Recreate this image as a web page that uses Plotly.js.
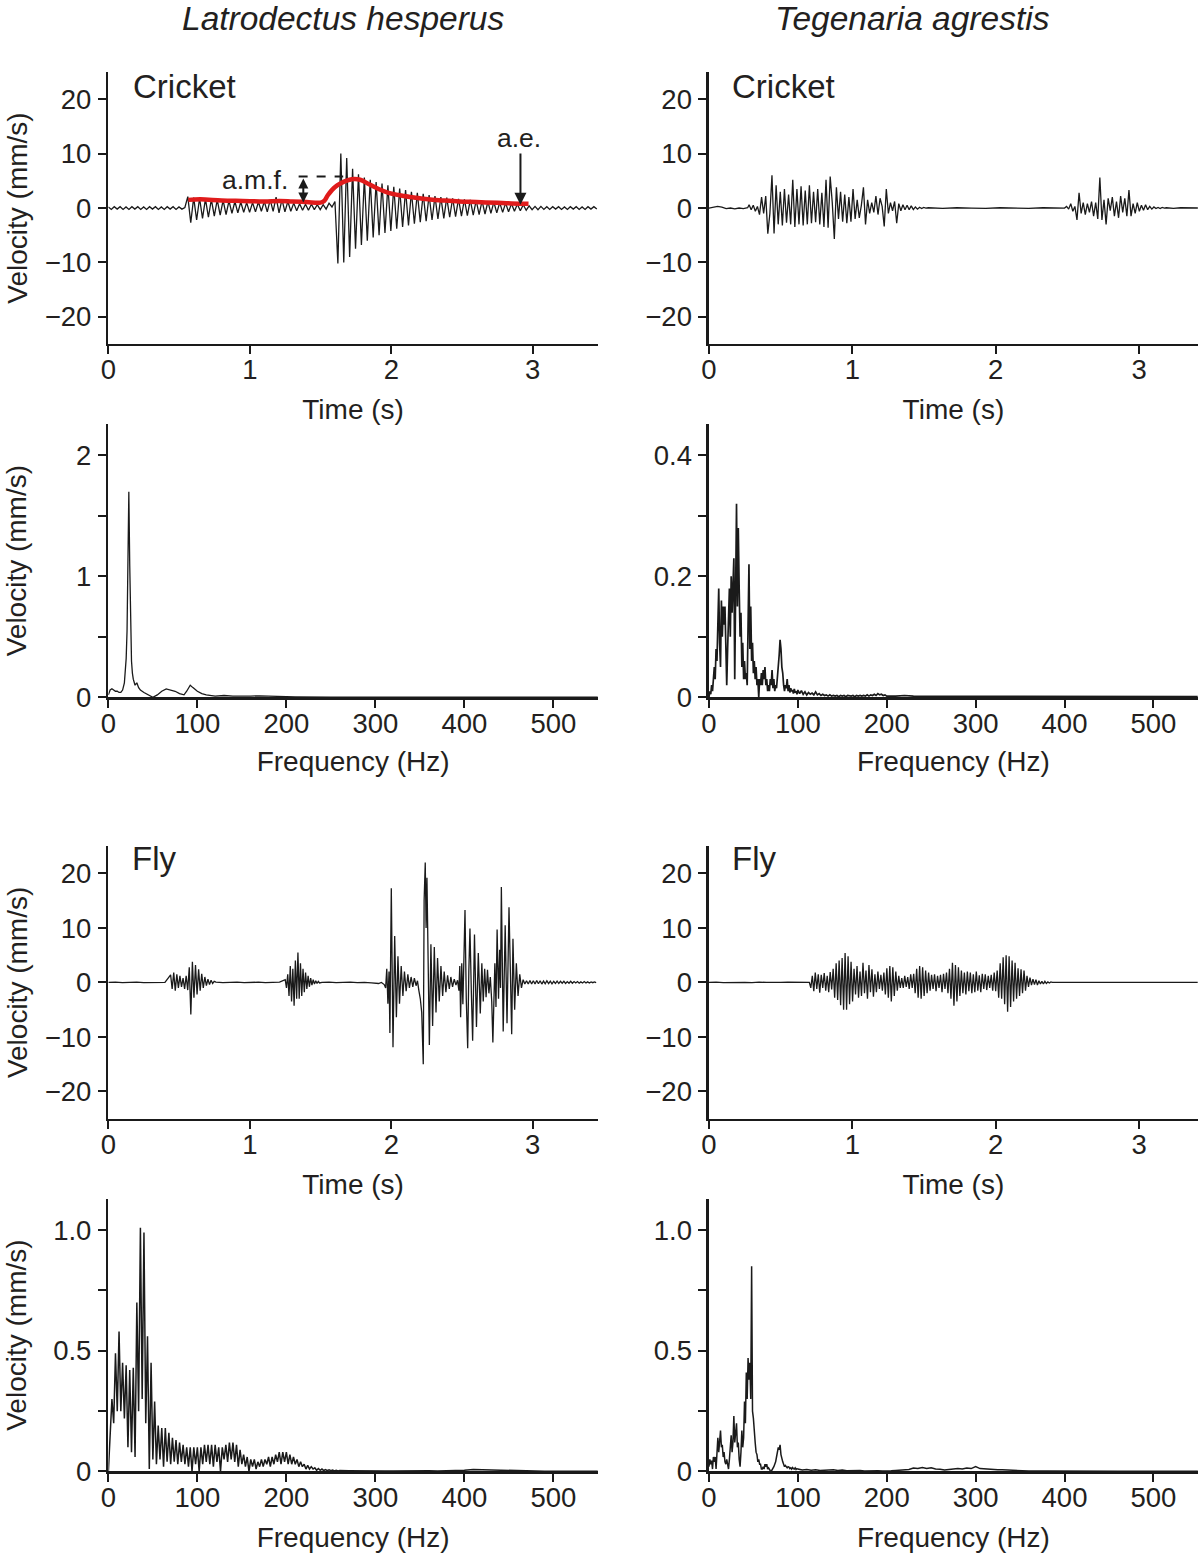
<!DOCTYPE html>
<html>
<head>
<meta charset="utf-8">
<script src="https://cdn.plot.ly/plotly-3.0.1.min.js"></script>
<style>html,body{margin:0;padding:0;background:#fff;}</style>
</head>
<body>
<div id="chart" style="width:1200px;height:1553px;"></div>
<script>
// ---------------- DATA ----------------
// Latrodectus hesperus, cricket: velocity (mm/s), sampled every 0.0208 s
const LH_CRICKET_PRE = [0.2,-0.25,0.25,-0.2,0.25,-0.25,0.2,-0.25,0.25,-0.2,0.25,-0.25,0.2,-0.25,0.25,-0.2,0.25,-0.25,0.2,-0.25,0.25,-0.2,0.25,-0.25,0.2,-0.2,0.1];
const LH_CRICKET_CALL = [
 2.1,-2.7,1.9,-2.2,1.8,-1.9,1.7,-1.7,1.6,-1.5,
 1.5,-1.3,1.4,-1.2,1.3,-1.0,1.2,-0.9,1.1,-0.8,
 1.0,-0.8,1.0,-0.7,1.1,-0.6,1.2,-0.7,1.5,-0.6,
 2.0,-0.9,1.6,-0.7,1.2,-0.6,0.9,-0.5,0.8,-0.4,
 0.7,-0.4,0.7,-0.3,0.6,-0.3,0.6,-0.2,0.9,0.2,
 1.2,-10.2,10.0,-10.0,9.2,-9.0,7.2,-7.5,6.2,-6.8,
 5.6,-6.0,5.2,-5.4,4.8,-5.0,4.5,-4.6,4.2,-4.2,
 3.9,-3.8,3.6,-3.5,3.3,-3.2,3.0,-2.9,2.8,-2.6,
 2.6,-2.4,2.4,-2.2,2.2,-2.0,2.0,-1.9,1.9,-1.7,
 1.8,-1.6,1.7,-1.5,1.6,-1.4,1.5,-1.3,1.4,-1.2,
 1.3,-1.1,1.2,-1.0,1.1,-0.9,1.0,-0.8,0.9,-0.7,
 0.8,-0.6,0.7,-0.5,0.6,-0.4];
const LH_CRICKET_POST = [0.4,-0.3,0.3,-0.3,0.3,-0.25,0.25,-0.25,0.25,-0.2,0.25,-0.25,0.2,-0.25,0.25,-0.2,0.25,-0.25,0.2,-0.25,0.25,-0.2,0.25,-0.2];
// envelope (red)
const LH_ENVELOPE_T = [0.565,0.65,0.8,0.95,1.1,1.21,1.3,1.4,1.5,1.525,1.55,1.58,1.62,1.67,1.72,1.78,1.84,1.91,1.98,2.07,2.17,2.26,2.36,2.48,2.6,2.75,2.85,2.97];
const LH_ENVELOPE_V = [1.5,1.6,1.4,1.3,1.2,1.3,1.2,1.1,1.0,1.3,2.3,3.3,4.2,4.9,5.3,5.2,4.4,3.5,2.8,2.3,1.9,1.6,1.4,1.2,1.1,0.95,0.85,0.8];

// Tegenaria agrestis, cricket
const TA_CRICKET_PRE = [0,0.1,0.3,0.15,-0.1,0,-0.15,0,-0.1,0.05];          // dt 0.03 from 0
const TA_CRICKET_BURST1 = [                                              // dt 0.0145 from 0.28
 0.6,-0.3,0.5,-0.6,0.3,-1.2,2.0,-1.0,2.2,-4.7,
 -1.0,6.0,-4.7,4.2,-3.0,3.0,-3.2,3.5,-2.7,2.5,
 -3.0,5.2,-3.5,3.5,-3.0,4.0,-3.2,3.2,-3.0,4.2,
 -2.8,3.0,-2.6,3.5,-3.0,2.8,-3.5,5.2,-3.6,5.8,
 1.0,-5.7,3.8,-2.0,3.0,-2.5,2.5,-2.8,2.0,-2.5,
 3.5,-2.0,1.5,-1.8,0.5,3.8,-3.0,1.5,-1.0,1.0,
 -0.8,2.2,-1.2,1.8,0.3,-3.4,3.5,-1.0,1.0,-0.5,
 1.2,-2.8,0.8,-0.5,0.6,-0.3,0.5,-0.3,0.4,-0.3,
 0.2,-0.2,0.15,-0.1,0.1,0];
const TA_CRICKET_GAP = [0.05,-0.05,0.05,0,-0.05,0.05,0,-0.05,0.05,0];      // dt 0.1 from 1.53
const TA_CRICKET_BURST2 = [                                              // dt 0.0145 from 2.48
 0,0.3,-0.2,0.8,-0.6,0.3,-2.2,2.8,-1.0,1.0,
 -1.2,0.8,-0.8,1.2,-1.5,1.0,-2.0,5.6,-2.2,1.5,
 -3.0,1.8,-0.5,2.0,-1.5,1.2,-1.8,2.2,-0.8,1.8,
 -1.5,3.3,-1.5,0.8,-1.0,1.0,-0.6,0.5,-0.4,0.6,
 -0.3,0.3,-0.2,0.2,-0.1,0.1,-0.1,0.1,0];
const TA_CRICKET_POST = [0.05,-0.05,0.05,0,-0.05,0];                       // dt 0.05 from 3.19

// Latrodectus hesperus, fly
const LH_FLY_PRE = [0,0.05,-0.05,0,0.05,-0.05,0,0.05,0];                     // dt 0.05 from 0
const LH_FLY_BURST1 = [1.4,-1.2,1.8,-1.5,1.5,-1.0,1.2,-0.8,0.8,-1.2,1.2,-1.4,2.8,-5.9,3.8,-2.8,3.2,-2.2,2.4,-1.5,1.6,-1.0,1.0,-0.6,0.6,-0.4,0.4,-0.2,0.2]; // dt 0.011 from 0.44
const LH_FLY_GAP1 = [0.05,-0.05,0,0.05,-0.05,0,0.05,-0.05,0,0.05];           // dt 0.05 from 0.76
const LH_FLY_BURST2 = [0.5,-1,1.5,-2.5,3,-3.5,2.5,-4.3,4,-3,5.5,-3,3.5,-2.5,2.5,-1.8,1.8,-1.2,1.2,-0.8,0.8,-0.5,0.5,-0.3,0.3,-0.2,0.2,-0.1]; // dt 0.009 from 1.25
const LH_FLY_GAP2 = [0,0.05,-0.05,0,0.05,-0.05,0,-0.1,-0.2];                 // dt 0.05 from 1.51
const LH_FLY_MAIN_T = [1.930,1.950,1.960,1.968,1.976,1.984,1.990,2.000,2.012,2.024,2.036,2.047,2.058,2.070,2.082,2.093,2.105,2.117,2.128,2.140,2.152,2.163,2.175,2.185,2.195,2.205,2.215,2.226,2.232,2.240,2.246,2.252,2.269,2.280,2.292,2.304,2.316,2.327,2.339,2.351,2.363,2.374,2.386,2.398,2.410,2.421,2.433,2.445,2.457,2.468,2.478,2.484,2.490,2.498,2.506,2.514,2.521,2.530,2.540,2.548,2.556,2.566,2.575,2.588,2.602,2.615,2.629,2.640,2.650,2.660,2.670,2.680,2.690,2.700,2.710,2.718,2.726,2.732,2.740,2.748,2.758,2.766,2.772,2.778,2.791,2.805,2.818,2.832,2.851,2.860,2.872,2.884,2.896,2.908,2.920,2.932,2.944];
const LH_FLY_MAIN_V = [0,-0.4,-1.0,2.5,-3.9,2.0,-9.3,17.3,-11.9,8.5,-6.4,4.8,-3.9,3.0,-2.5,2.0,-1.6,1.5,-1.0,1.0,-0.8,0.8,-0.6,0.3,-1.5,-3.0,-5.5,-15.0,15.0,22.0,10.0,19.2,-11.5,7.0,-8.0,6.5,-5.5,4.5,-3.5,3.0,-2.5,2.0,-1.8,1.3,-1.2,1.0,-0.8,0.6,-0.5,0.4,-1.5,3.0,-6.4,3.5,-4.0,5.0,13.3,-3.0,-12.1,2.0,9.9,-2.0,-10.7,8.8,-8.2,5.4,-5.7,3.5,-3.5,2.5,-2.7,2.3,-2.0,1.0,-3.5,-11.0,-3.0,3.5,-4.5,9.7,-3.0,6.0,-1.0,17.5,-9.0,10.5,-7.5,13.8,-9.5,8.0,-5.0,3.5,-2.5,1.5,-1.0,0.5,-0.3];
const LH_FLY_POST = [0.3,-0.3,0.35,-0.3,0.3,-0.3,0.35,-0.25,0.3,-0.3,0.25,-0.25,0.3,-0.2,0.25,-0.25,0.2,-0.2,0.25,-0.2,0.2,-0.15,0.2,-0.2,0.15,-0.15,0.2,-0.15,0.15,-0.1,0.15,-0.15,0.1,-0.1,0.15,-0.1,0.1,-0.1,0.1,-0.05,0.1,-0.05]; // dt 0.012 from 2.956

// Tegenaria agrestis, fly
const TA_FLY_PRE = [0,0.05,-0.05,0,0.05,0,-0.05,0.05,0,-0.05,0,0.05,0,0];     // dt 0.05 from 0
const TA_FLY_BURST = [                                                   // dt 0.0104 from 0.70
 0,-1.0,1.2,-1.6,1.8,-1.2,1.5,-1.9,1.4,-1.0,
 1.7,-1.5,1.2,-1.8,1.9,-1.3,2.5,-2.8,3.5,-3.2,
 4.0,-4.2,4.5,-5.0,5.4,-5.0,4.8,-4.0,3.8,-3.5,
 2.5,-2.2,3.0,-2.8,2.0,-2.5,3.6,-2.0,2.2,-3.0,
 3.2,-1.8,2.4,-2.6,1.5,-1.8,2.0,-1.2,1.4,-1.5,
 1.8,-2.2,2.6,-2.8,3.0,-3.5,2.8,-2.5,2.0,-1.5,
 1.2,-1.0,0.8,-1.0,1.2,-0.8,1.0,-1.2,1.5,-1.0,
 1.6,-2.0,2.5,-2.8,3.0,-3.0,2.8,-2.5,2.2,-2.0,
 1.8,-1.5,1.4,-1.2,1.5,-1.6,1.2,-1.0,1.4,-1.8,
 1.6,-1.2,1.8,-2.0,2.5,-3.0,3.6,-4.3,3.2,-3.5,
 2.8,-2.5,2.2,-2.0,1.8,-2.2,2.0,-1.6,1.8,-2.0,
 1.5,-1.8,2.0,-1.5,1.3,-1.8,1.6,-1.2,1.5,-1.4,
 1.2,-1.0,1.4,-1.5,1.8,-1.6,2.2,-2.8,3.5,-3.0,
 4.6,-4.0,5.0,-5.4,4.8,-4.5,4.0,-3.5,3.6,-3.0,
 2.6,-2.5,2.4,-2.0,2.2,-1.5,1.2,-0.8,0.9,-0.5,
 0.6,-0.4,0.5,-0.5,0.3,-0.3,0.2,-0.3,0.2,-0.2,
 0.1,-0.1,0.1,0];
const TA_FLY_POST = [0,0.05,-0.05,0,0.05,0,-0.05,0,0.05,0,0];              // dt 0.1 from 2.41

// Spectra (velocity mm/s vs frequency Hz)
const LH_CRICKET_SPEC_HZ = [0,2,4,6,8,10,12,14,16,18,19,20,21,22,23,24,25,26,27,28,30,32,34,36,40,45,50,55,60,65,70,75,80,85,88,90,92,95,100,105,110,120,130,140,150,160,170,180,190,200,210,220,250,300,350,400,450,500,550];
const LH_CRICKET_SPEC_V = [0.02,0.06,0.07,0.06,0.05,0.05,0.04,0.04,0.06,0.12,0.2,0.32,0.55,1.0,1.7,1.1,0.55,0.3,0.2,0.15,0.1,0.12,0.08,0.06,0.04,0.02,0.0,0.02,0.05,0.07,0.06,0.05,0.03,0.02,0.05,0.08,0.1,0.08,0.05,0.03,0.02,0.01,0.015,0.01,0.008,0.01,0.012,0.008,0.006,0.005,0.003,0.002,0.001,0.001,0.001,0.001,0.001,0.001,0.001];

const TA_CRICKET_SPEC_LOW = [   // 0–100 Hz, 1 Hz step
 0.0,0.01,0.005,0.02,0.01,0.03,0.05,0.03,0.08,0.06,
 0.12,0.18,0.09,0.05,0.16,0.10,0.15,0.12,0.15,0.06,
 0.02,0.08,0.12,0.18,0.10,0.20,0.14,0.19,0.23,0.03,
 0.20,0.32,0.15,0.28,0.18,0.10,0.14,0.05,0.09,0.03,
 0.06,0.03,0.04,0.02,0.12,0.22,0.08,0.15,0.06,0.09,
 0.04,0.06,0.03,0.05,0.02,0.03,0.0,0.03,0.02,0.04,
 0.02,0.045,0.03,0.05,0.02,0.03,0.01,0.02,0.01,0.03,
 0.02,0.045,0.015,0.03,0.01,0.02,0.015,0.03,0.05,0.07,
 0.095,0.08,0.05,0.04,0.02,0.01,0.02,0.015,0.03,0.01,
 0.02,0.008,0.015,0.01,0.012,0.006,0.014,0.008,0.01,0.005,
 0.012];
const TA_CRICKET_SPEC_MID = [   // 100–200 Hz, 2 Hz step
 0.012,0.006,0.011,0.005,0.009,0.004,0.008,0.005,0.007,0.004,0.009,
 0.004,0.006,0.003,0.005,0.003,0.004,0.002,0.004,0.002,0.003,
 0.002,0.003,0.001,0.003,0.002,0.003,0.001,0.003,0.002,0.002,
 0.003,0.001,0.003,0.002,0.003,0.002,0.003,0.002,0.004,0.002,
 0.004,0.003,0.005,0.003,0.006,0.004,0.005,0.003,0.004,0.002];
const TA_CRICKET_SPEC_HIGH = [  // 200–550 Hz, 10 Hz step
 0.002,0.002,0.003,0.002,0.002,0.001,0.002,0.001,0.002,0.001,
 0.002,0.001,0.002,0.001,0.001,0.002,0.001,0.001,0.002,0.001,
 0.001,0.001,0.002,0.001,0.001,0.001,0.001,0.002,0.001,0.001,
 0.001,0.001,0.001,0.001,0.001,0.001];

const LH_FLY_SPEC_LOW = [       // 0–260 Hz, 2 Hz step
 0.0,0.15,0.30,0.20,0.49,0.25,0.58,0.25,0.45,0.22,
 0.44,0.10,0.42,0.08,0.43,0.06,0.70,0.25,1.01,0.30,
 0.99,0.20,0.56,0.01,0.45,0.05,0.29,0.03,0.19,0.05,
 0.18,0.02,0.18,0.04,0.16,0.03,0.14,0.04,0.13,0.03,
 0.12,0.04,0.11,0.03,0.10,0.02,0.10,0.0,0.10,0.03,
 0.10,0.0,0.10,0.03,0.11,0.04,0.11,0.03,0.11,0.02,
 0.11,0.04,0.10,0.0,0.10,0.05,0.11,0.04,0.12,0.05,
 0.12,0.04,0.11,0.02,0.09,0.03,0.07,0.02,0.06,0.0,
 0.05,0.02,0.05,0.01,0.04,0.02,0.05,0.02,0.05,0.03,
 0.06,0.02,0.06,0.03,0.07,0.04,0.08,0.03,0.08,0.04,
 0.08,0.03,0.07,0.03,0.06,0.03,0.05,0.02,0.04,0.02,
 0.03,0.01,0.025,0.01,0.02,0.01,0.015,0.005,0.012,0.005,
 0.01,0.004,0.008,0.003,0.007,0.003,0.006,0.002,0.005,0.002,
 0.004];
const LH_FLY_SPEC_HIGH = [      // 260–550 Hz, 10 Hz step
 0.004,0.003,0.002,0.002,0.003,0.002,0.002,0.003,0.003,0.004,
 0.003,0.002,0.002,0.003,0.005,0.008,0.007,0.004,0.003,0.002,
 0.002,0.001,0.001,0.001,0.001,0.001,0.001,0.001,0.001,0.001];

const TA_FLY_SPEC_LOW = [       // 0–100 Hz, 1 Hz step
 0.02,0.05,0.03,0.045,0.01,0.06,0.04,0.06,0.01,0.08,
 0.14,0.08,0.12,0.17,0.10,0.11,0.06,0.08,0.04,0.03,
 0.05,0.02,0.01,0.05,0.09,0.15,0.08,0.12,0.23,0.12,
 0.16,0.20,0.10,0.12,0.05,0.02,0.08,0.17,0.10,0.14,
 0.29,0.20,0.41,0.30,0.47,0.38,0.45,0.30,0.85,0.25,
 0.22,0.14,0.12,0.08,0.07,0.04,0.05,0.03,0.03,0.01,
 0.01,0.02,0.01,0.03,0.02,0.03,0.01,0.015,0.005,0.003,
 0.0,0.005,0.01,0.02,0.03,0.04,0.06,0.08,0.10,0.09,
 0.11,0.07,0.05,0.04,0.03,0.02,0.025,0.02,0.015,0.02,
 0.018,0.012,0.015,0.01,0.016,0.012,0.01,0.015,0.008,0.012,
 0.01];
const TA_FLY_SPEC_MID = [       // 100–360 Hz, 5 Hz step
 0.01,0.006,0.008,0.005,0.007,0.004,0.006,0.005,0.007,0.004,
 0.006,0.003,0.004,0.003,0.004,0.002,0.003,0.004,0.003,0.002,
 0.004,0.003,0.004,0.005,0.006,0.008,0.014,0.012,0.016,0.012,
 0.015,0.01,0.009,0.006,0.008,0.01,0.012,0.01,0.014,0.012,
 0.02,0.012,0.01,0.009,0.008,0.007,0.007,0.006,0.005,0.004,
 0.003,0.003,0.002];
const TA_FLY_SPEC_HIGH = [0.002,0.002,0.001,0.001,0.001,0.001,0.001,0.001,0.001,0.001,0.001]; // 360–560 Hz, 20 Hz step

const TIME_TICKS = [0,1,2,3];
const FREQ_TICKS = [0,100,200,300,400,500];
const VEL_TICKS = [-20,-10,0,10,20];

// ---------------- BUILD ----------------
function build(segs){
  const x=[], y=[];
  segs.forEach(s=>{
    if (s.t) { s.t.forEach((tt,i)=>{x.push(tt); y.push(s.v[i]);}); }
    else { s.v.forEach((v,i)=>{x.push(+(s.x0 + i*s.dx).toFixed(5)); y.push(v);}); }
  });
  return {x,y};
}

const lhCricket = build([
  {x0:0, dx:0.0208, v:LH_CRICKET_PRE},
  {x0:27*0.0208, dx:0.0208, v:LH_CRICKET_CALL},
  {x0:143*0.0208, dx:0.0208, v:LH_CRICKET_POST}
]);
const taCricket = build([
  {x0:0, dx:0.03, v:TA_CRICKET_PRE},
  {x0:0.28, dx:0.0145, v:TA_CRICKET_BURST1},
  {x0:1.53, dx:0.1, v:TA_CRICKET_GAP},
  {x0:2.48, dx:0.0145, v:TA_CRICKET_BURST2},
  {x0:3.19, dx:0.05, v:TA_CRICKET_POST}
]);
const lhFly = build([
  {x0:0, dx:0.05, v:LH_FLY_PRE},
  {x0:0.44, dx:0.011, v:LH_FLY_BURST1},
  {x0:0.76, dx:0.05, v:LH_FLY_GAP1},
  {x0:1.25, dx:0.009, v:LH_FLY_BURST2},
  {x0:1.51, dx:0.05, v:LH_FLY_GAP2},
  {t:LH_FLY_MAIN_T, v:LH_FLY_MAIN_V},
  {x0:2.956, dx:0.012, v:LH_FLY_POST}
]);
const taFly = build([
  {x0:0, dx:0.05, v:TA_FLY_PRE},
  {x0:0.70, dx:0.0104, v:TA_FLY_BURST},
  {x0:2.41, dx:0.1, v:TA_FLY_POST}
]);
const lhCricketSpec = build([{t:LH_CRICKET_SPEC_HZ, v:LH_CRICKET_SPEC_V}]);
const taCricketSpec = build([
  {x0:0, dx:1, v:TA_CRICKET_SPEC_LOW},
  {x0:102, dx:2, v:TA_CRICKET_SPEC_MID.slice(1)},
  {x0:210, dx:10, v:TA_CRICKET_SPEC_HIGH.slice(1)}
]);
const lhFlySpec = build([
  {x0:0, dx:2, v:LH_FLY_SPEC_LOW},
  {x0:270, dx:10, v:LH_FLY_SPEC_HIGH.slice(1)}
]);
const taFlySpec = build([
  {x0:0, dx:1, v:TA_FLY_SPEC_LOW},
  {x0:105, dx:5, v:TA_FLY_SPEC_MID.slice(1)},
  {x0:380, dx:20, v:TA_FLY_SPEC_HIGH.slice(1)}
]);

const INK = '#1a1a1a';
const TXT = '#231f20';
const FONT = '"Liberation Sans", Arial, Helvetica, sans-serif';

function line(d, xa, ya, w){
  return {type:'scatter', mode:'lines', x:d.x, y:d.y, xaxis:xa, yaxis:ya,
          line:{color:INK, width:w||1.2}, hoverinfo:'skip', showlegend:false};
}

const traces = [
  line(lhCricket,'x','y',1.3),
  {type:'scatter', mode:'lines', x:LH_ENVELOPE_T, y:LH_ENVELOPE_V, xaxis:'x', yaxis:'y',
   line:{color:'#e01b1b', width:4.5, shape:'spline'}, showlegend:false, hoverinfo:'skip'},
  line(taCricket,'x2','y2',1.3),
  line(lhCricketSpec,'x3','y3',1.3),
  line(taCricketSpec,'x4','y4',1.7),
  line(lhFly,'x5','y5',1.3),
  line(taFly,'x6','y6',1.3),
  line(lhFlySpec,'x7','y7',1.5),
  line(taFlySpec,'x8','y8',1.5)
];

// ---------------- LAYOUT ----------------
const LEFT = [0.0903, 0.4982], RIGHT = [0.5908, 0.9982];
const ROW1 = [0.7785, 0.9536], ROW2 = [0.5510, 0.7270], ROW3 = [0.2797, 0.4551], ROW4 = [0.0525, 0.2281];

function ax(o){
  return Object.assign({
    showline:true, linecolor:INK, linewidth:2.5, mirror:false,
    ticks:'outside', ticklen:8, tickwidth:2, tickcolor:INK,
    showgrid:false, zeroline:false, fixedrange:true,
    tickfont:{family:FONT, size:27.5, color:TXT}
  }, o);
}
function ttl(text, standoff){ return {text:text, font:{family:FONT, size:28, color:TXT}, standoff:standoff}; }
const XS = -8, YS = 1;

const layout = {
  width:1200, height:1553,
  margin:{l:0, r:0, t:0, b:0},
  paper_bgcolor:'#ffffff', plot_bgcolor:'#ffffff',
  showlegend:false,
  font:{family:FONT, color:TXT},
  xaxis:  ax({domain:LEFT,  anchor:'y',  range:[0,3.46], tickvals:TIME_TICKS, ticklabelstandoff:XS, title:ttl('Time (s)',15)}),
  yaxis:  ax({domain:ROW1,  anchor:'x',  range:[-25,25], tickvals:VEL_TICKS, ticklabelstandoff:YS, title:ttl('Velocity (mm/s)',9)}),
  xaxis2: ax({domain:RIGHT, anchor:'y2', range:[0,3.41], tickvals:TIME_TICKS, ticklabelstandoff:XS, title:ttl('Time (s)',15)}),
  yaxis2: ax({domain:ROW1,  anchor:'x2', range:[-25,25], tickvals:VEL_TICKS, ticklabelstandoff:YS}),
  xaxis3: ax({domain:LEFT,  anchor:'y3', range:[0,550], tickvals:FREQ_TICKS, ticklabelstandoff:XS, title:ttl('Frequency (Hz)',14)}),
  yaxis3: ax({domain:ROW2,  anchor:'x3', range:[0,2.26], tickvals:[0,0.5,1,1.5,2], ticktext:['0','','1','','2'], ticklabelstandoff:YS, title:ttl('Velocity (mm/s)',42)}),
  xaxis4: ax({domain:RIGHT, anchor:'y4', range:[0,550], tickvals:FREQ_TICKS, ticklabelstandoff:XS, title:ttl('Frequency (Hz)',14)}),
  yaxis4: ax({domain:ROW2,  anchor:'x4', range:[0,0.452], tickvals:[0,0.1,0.2,0.3,0.4], ticktext:['0','','0.2','','0.4'], ticklabelstandoff:YS}),
  xaxis5: ax({domain:LEFT,  anchor:'y5', range:[0,3.46], tickvals:TIME_TICKS, ticklabelstandoff:XS, title:ttl('Time (s)',16)}),
  yaxis5: ax({domain:ROW3,  anchor:'x5', range:[-25,25], tickvals:VEL_TICKS, ticklabelstandoff:YS, title:ttl('Velocity (mm/s)',9)}),
  xaxis6: ax({domain:RIGHT, anchor:'y6', range:[0,3.41], tickvals:TIME_TICKS, ticklabelstandoff:XS, title:ttl('Time (s)',16)}),
  yaxis6: ax({domain:ROW3,  anchor:'x6', range:[-25,25], tickvals:VEL_TICKS, ticklabelstandoff:YS}),
  xaxis7: ax({domain:LEFT,  anchor:'y7', range:[0,550], tickvals:FREQ_TICKS, ticklabelstandoff:XS, title:ttl('Frequency (Hz)',18)}),
  yaxis7: ax({domain:ROW4,  anchor:'x7', range:[0,1.13], tickvals:[0,0.25,0.5,0.75,1.0], ticktext:['0','','0.5','','1.0'], ticklabelstandoff:YS, title:ttl('Velocity (mm/s)',19)}),
  xaxis8: ax({domain:RIGHT, anchor:'y8', range:[0,550], tickvals:FREQ_TICKS, ticklabelstandoff:XS, title:ttl('Frequency (Hz)',18)}),
  yaxis8: ax({domain:ROW4,  anchor:'x8', range:[0,1.13], tickvals:[0,0.25,0.5,0.75,1.0], ticktext:['0','','0.5','','1.0'], ticklabelstandoff:YS}),
  shapes:[
    {type:'line', xref:'x', yref:'y', x0:1.345, x1:1.66, y0:5.8, y1:5.8, line:{color:INK, width:2, dash:'dash'}}
  ],
  annotations:[
    {xref:'paper', yref:'paper', x:0.2858, y:0.9884, text:'<i>Latrodectus hesperus</i>', showarrow:false, font:{family:FONT, size:33.5, color:TXT}, xanchor:'center', yanchor:'middle'},
    {xref:'paper', yref:'paper', x:0.7608, y:0.9884, text:'<i>Tegenaria agrestis</i>', showarrow:false, font:{family:FONT, size:33.5, color:TXT}, xanchor:'center', yanchor:'middle'},
    {xref:'paper', yref:'paper', x:0.1092, y:0.9440, text:'Cricket', showarrow:false, font:{family:FONT, size:33, color:TXT}, xanchor:'left', yanchor:'middle'},
    {xref:'paper', yref:'paper', x:0.6083, y:0.9440, text:'Cricket', showarrow:false, font:{family:FONT, size:33, color:TXT}, xanchor:'left', yanchor:'middle'},
    {xref:'paper', yref:'paper', x:0.1083, y:0.4475, text:'Fly', showarrow:false, font:{family:FONT, size:33, color:TXT}, xanchor:'left', yanchor:'middle'},
    {xref:'paper', yref:'paper', x:0.6083, y:0.4475, text:'Fly', showarrow:false, font:{family:FONT, size:33, color:TXT}, xanchor:'left', yanchor:'middle'},
    {xref:'x', yref:'y', x:1.035, y:5.2, text:'a.m.f.', showarrow:false, font:{family:FONT, size:26.5, color:TXT}, xanchor:'center', yanchor:'middle'},
    {xref:'x', yref:'y', x:2.902, y:12.9, text:'a.e.', showarrow:false, font:{family:FONT, size:26.5, color:TXT}, xanchor:'center', yanchor:'middle'},
    {xref:'x', yref:'y', x:2.913, y:0.6, axref:'x', ayref:'y', ax:2.913, ay:10.3, text:'', showarrow:true,
     arrowhead:2, arrowsize:1.2, arrowwidth:2, arrowcolor:INK},
    {xref:'x', yref:'y', x:1.378, y:1.0, axref:'x', ayref:'y', ax:1.378, ay:5.7, text:'', showarrow:true,
     arrowside:'end+start', arrowhead:2, startarrowhead:2, arrowsize:1.0, startarrowsize:1.0, arrowwidth:2, arrowcolor:INK}
  ]
};

Plotly.newPlot('chart', traces, layout, {staticPlot:true, displayModeBar:false});
</script>
</body>
</html>
